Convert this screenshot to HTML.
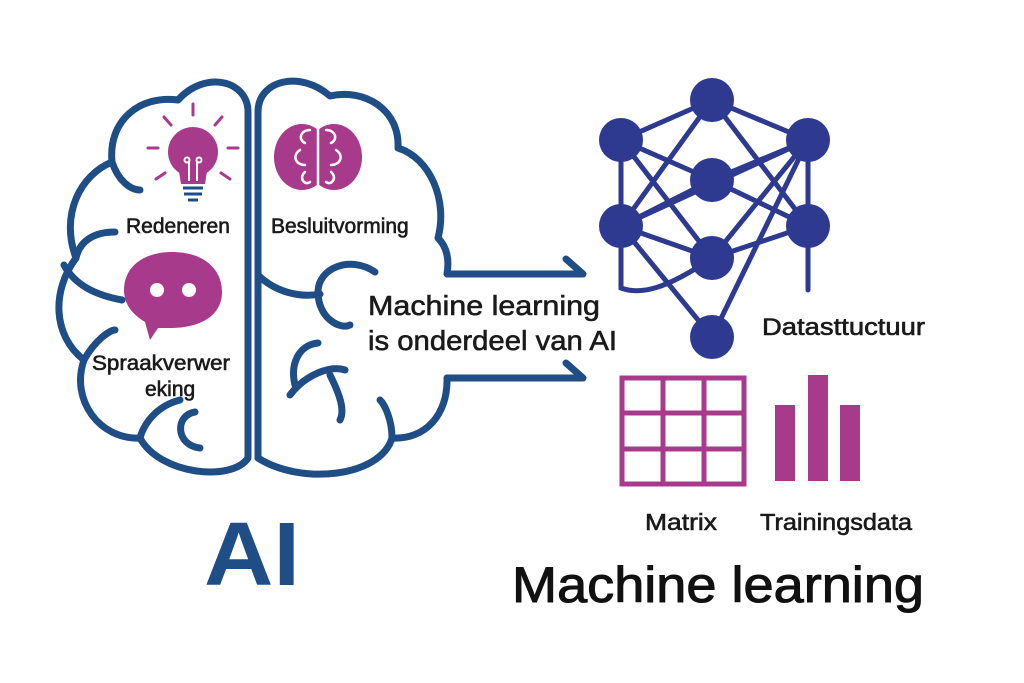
<!DOCTYPE html>
<html><head><meta charset="utf-8"><style>
body{margin:0;background:#fff;width:1024px;height:683px;overflow:hidden}
svg{display:block}
text{font-family:"Liberation Sans",sans-serif}
</style></head><body>
<svg width="1024" height="683" viewBox="0 0 1024 683">
<g fill="none" stroke="#1f4e86" stroke-width="7" stroke-linecap="round" stroke-linejoin="round">
<path d="M248,458 V112 C248,80 205,70 178,100 C140,95 108,120 112,162 C80,175 60,215 76,258 C52,290 52,335 84,360 C70,400 100,440 140,438 C160,475 232,482 248,458"/>
<path d="M258,458 V112 C258,80 300,70 330,96 C365,88 400,110 398,148 C430,158 448,200 438,238 C448,248 449,262 447,274 H580"/>
<path d="M447,378 H580"/>
<path d="M447,378 C448,415 425,440 392,438 C380,478 300,485 258,458"/>
<path d="M566,259 L583,274 L566,274"/>
<path d="M566,363 L583,378 L566,378"/>
<path d="M112,162 C118,180 130,190 140,190"/>
<path d="M76,258 C80,240 95,232 115,232"/>
<path d="M64,265 C75,285 95,295 122,300"/>
<path d="M84,360 C95,340 110,330 115,330"/>
<path d="M140,438 C145,420 160,405 180,400"/>
<path d="M195,412 C175,415 175,445 200,448"/>
<path d="M258,275 C275,292 300,298 320,294"/>
<path d="M375,272 C350,255 318,268 318,292 C318,318 340,330 350,325"/>
<path d="M318,343 C298,345 290,365 295,385"/>
<path d="M290,395 C305,375 330,365 345,370"/>
<path d="M330,375 C340,395 345,410 340,420"/>
<path d="M392,438 C392,420 385,405 380,400"/>
</g>
<g fill="#a83a8c" stroke="#a83a8c">
<circle cx="193" cy="152" r="25" stroke="none"/>
<path d="M178,165 L181,184 H205 L208,165 Z" stroke="none"/>
<g stroke-width="3" stroke-linecap="round">
<line x1="193" y1="104" x2="193" y2="115"/><line x1="164" y1="117" x2="171" y2="125"/><line x1="222" y1="117" x2="215" y2="125"/>
<line x1="148" y1="148" x2="158" y2="148"/><line x1="228" y1="148" x2="238" y2="148"/>
<line x1="156" y1="179" x2="165" y2="173"/><line x1="230" y1="179" x2="221" y2="173"/>
</g>
</g>
<g stroke="#fff" stroke-width="2" fill="none"><path d="M189,181 V162 M197,181 V162"/><circle cx="187" cy="160" r="2.5"/><circle cx="199" cy="160" r="2.5"/></g>
<g stroke="#1f4e86" stroke-width="3"><line x1="183" y1="188" x2="203" y2="188"/><line x1="184" y1="194" x2="202" y2="194"/><line x1="188" y1="200" x2="198" y2="200"/></g>
<g fill="#a83a8c">
<ellipse cx="302" cy="157" rx="28" ry="33"/><ellipse cx="334" cy="157" rx="28" ry="33"/>
</g>
<g fill="none" stroke="#fff" stroke-width="2.5" stroke-linecap="round">
<line x1="318" y1="127" x2="318" y2="191"/>
<path d="M310,130 C300,130 298,140 305,143 M300,150 C292,155 295,165 305,165 M305,172 C298,178 305,186 310,182"/>
<path d="M326,130 C336,130 338,140 331,143 M336,150 C344,155 341,165 331,165 M331,172 C338,178 331,186 326,182"/>
</g>
<path d="M172,252 C205,252 222,270 222,292 C222,316 200,328 170,328 L158,328 L150,340 L145,322 C132,314 124,304 124,290 C124,268 142,252 172,252 Z" fill="#a83a8c"/>
<circle cx="157" cy="290" r="7" fill="#fff"/><circle cx="189" cy="290" r="7" fill="#fff"/>
<g stroke="#2e3a8f" stroke-width="5" fill="none" stroke-linecap="round">
<path d="M712,100 L621,140 M712,100 L808,140 M712,100 L621,226 M712,100 L808,226"/>
<path d="M621,140 L712,180 M621,140 L712,258 M808,140 L712,180 M808,140 L621,226 M808,140 L712,258 M808,140 L712,337"/>
<path d="M621,226 L712,180 M621,226 L712,258 M621,226 L712,337 M808,226 L712,180 M808,226 L712,258"/>
<path d="M621,140 V288 C640,295 665,290 712,258"/>
<path d="M808,140 V290"/>
</g>
<g fill="#2e3a8f">
<circle cx="712" cy="100" r="22"/><circle cx="621" cy="140" r="22"/><circle cx="808" cy="140" r="22"/>
<circle cx="712" cy="180" r="22"/><circle cx="621" cy="226" r="22"/><circle cx="808" cy="226" r="22"/>
<circle cx="712" cy="258" r="22"/><circle cx="712" cy="337" r="22"/>
</g>
<g fill="none" stroke="#a83a8c" stroke-width="5">
<rect x="622" y="378" width="122" height="106"/>
<line x1="663" y1="378" x2="663" y2="484"/><line x1="704" y1="378" x2="704" y2="484"/>
<line x1="622" y1="413" x2="744" y2="413"/><line x1="622" y1="449" x2="744" y2="449"/>
</g>
<g fill="#a83a8c"><rect x="775" y="405" width="20" height="76"/><rect x="808" y="375" width="20" height="106"/><rect x="840" y="405" width="20" height="76"/></g>
<g fill="#1a1a1a" stroke="#1a1a1a" stroke-width="0.6">
<text x="126" y="233" font-size="21">Redeneren</text>
<text x="271" y="233" font-size="21">Besluitvorming</text>
<text x="92" y="370" font-size="21" textLength="138" lengthAdjust="spacingAndGlyphs">Spraakverwer</text>
<text x="145" y="396" font-size="21">eking</text>
<text x="368" y="315" font-size="28" textLength="232" lengthAdjust="spacingAndGlyphs">Machine learning</text>
<text x="368" y="350" font-size="28" textLength="249" lengthAdjust="spacingAndGlyphs">is onderdeel van AI</text>
<text x="762" y="335" font-size="24" textLength="163" lengthAdjust="spacingAndGlyphs">Datasttuctuur</text>
<text x="645" y="530" font-size="23" textLength="72" lengthAdjust="spacingAndGlyphs">Matrix</text>
<text x="760" y="530" font-size="23" textLength="152" lengthAdjust="spacingAndGlyphs">Trainingsdata</text>
<text x="512" y="602" font-size="50" fill="#111" stroke="#111" stroke-width="1" textLength="412" lengthAdjust="spacingAndGlyphs">Machine learning</text>
</g>
<text x="204" y="585" font-size="90" font-weight="bold" fill="#1f4e86" textLength="96" lengthAdjust="spacingAndGlyphs">AI</text>
</svg>
</body></html>
